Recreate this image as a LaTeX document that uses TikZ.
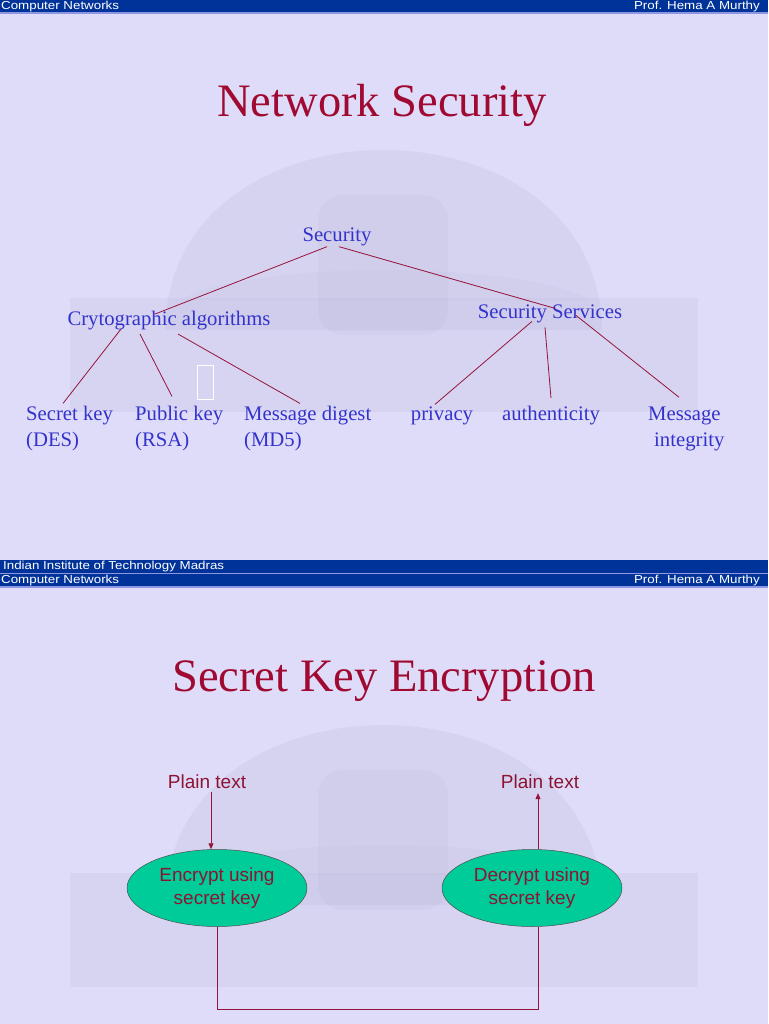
\documentclass[tikz,border=0pt]{standalone}
\usepackage{fontspec}
\setmainfont{Liberation Serif}
\newfontfamily\arialf{Liberation Sans}
\usetikzlibrary{shapes.geometric,arrows.meta}
\definecolor{bg}{RGB}{223,220,249}
\definecolor{hdr}{RGB}{0,51,153}
\definecolor{hdrline}{RGB}{140,150,225}
\definecolor{ttl}{RGB}{160,10,50}
\definecolor{blu}{RGB}{51,51,204}
\definecolor{lin}{RGB}{150,20,60}
\definecolor{grn}{RGB}{0,204,153}
\definecolor{mar}{RGB}{140,20,50}
\definecolor{pho}{RGB}{190,186,220}
\newcommand\myphoto{%
  \fill[pho,opacity=.25] (165,330) .. controls (168,90) and (599,90) .. (602,330) -- cycle;
  \fill[pho,opacity=.22] (70,298) rectangle (698,412);
  \fill[pho!70!black,opacity=.06,rounded corners=25pt] (318,195) rectangle (448,335);
  \fill[pho,opacity=.15] (180,300) .. controls (250,260) and (520,260) .. (590,300) -- cycle;
}
\newcommand\myheader[1]{%
  \fill[hdr] (0,#1) rectangle (768,#1+12.5);
  \fill[hdrline] (0,#1+12.5) rectangle (768,#1+14);
}
\newcommand\ovaltext[2]{\raisebox{-2pt}{\begin{tabular}{@{}c@{}}#1\\#2\end{tabular}}}
\tikzset{
  hdrtxt/.style={text=white,font=\arialf\fontsize{11.6}{12}\selectfont,inner sep=0pt},
  ttltxt/.style={text=ttl,font=\fontsize{46.5}{50}\selectfont,inner sep=0pt},
  tree/.style={text=blu,font=\fontsize{20.7}{26}\selectfont,inner sep=0pt,align=left},
  conn/.style={draw=lin,line width=0.8pt},
  flow/.style={draw=lin,line width=0.8pt},
  ptxt/.style={text=mar,font=\arialf\fontsize{19}{23}\selectfont,inner sep=0pt},
  oval/.style={ellipse,draw=black!70,line width=0.5pt,fill=grn,minimum width=180pt,minimum height=77pt,
     text=mar,font=\arialf\fontsize{19}{23}\selectfont,inner sep=0pt},
}
\begin{document}
\begin{tikzpicture}[x=1pt,y=-1pt]
\useasboundingbox (0,0) rectangle (768,1024);
\fill[bg] (0,0) rectangle (768,1024);
% ---------- slide 1 ----------
\myphoto
\myheader{0}
\node[hdrtxt,anchor=west] (h1l) at (1,6.3) {\scalebox{1.15}[1]{Computer Networks}};
\node[hdrtxt,anchor=east] (h1r) at (760,6.3) {\scalebox{1.15}[1]{Prof. Hema A Murthy}};
\node[ttltxt] (t1) at (382,105) {Network Security};

\node[tree,anchor=base] (sec) at (337,241) {Security};
\node[tree,anchor=base] (cry) at (169,325) {Crytographic algorithms};
\node[tree,anchor=base] (ss) at (550,318) {Security Services};
\node[tree,anchor=base west] (sk) at (26,446) {Secret key\\(DES)};
\node[tree,anchor=base west] (pk) at (135,446) {Public key\\(RSA)};
\node[tree,anchor=base west] (md) at (244,446) {Message digest\\(MD5)};
\node[tree,anchor=base] (pr) at (442,420) {privacy};
\node[tree,anchor=base] (au) at (551,420) {authenticity};
\node[tree,anchor=base west] (mi) at (648,446) {Message\\\hspace*{6pt}integrity};
\draw[white,line width=1pt] (197,365) rectangle (213,399);

\draw[conn] ([shift={(-10,1)}]sec.south) -- ([shift={(-14,-6)}]cry.center);
\draw[conn] ([shift={(2,1)}]sec.south) -- ([shift={(5,-5)}]ss.center);
\draw[conn] ([shift={(-48,9)}]cry.center) -- ([shift={(37,-2)}]sk.north west);
\draw[conn] ([shift={(-29,14)}]cry.center) -- ([shift={(37,-9)}]pk.north west);
\draw[conn] ([shift={(9,14)}]cry.center) -- ([shift={(56,-2)}]md.north west);
\draw[conn] ([shift={(-18,8)}]ss.center) -- ([shift={(-7,-11)}]pr.center);
\draw[conn] ([shift={(-5,14)}]ss.center) -- ([shift={(0,-17)}]au.center);
\draw[conn] ([shift={(26,2)}]ss.center) -- ([shift={(31,-9)}]mi.north west);

\fill[hdr] (0,560) rectangle (768,572.5);
\fill[hdrline] (0,572.5) rectangle (768,573.5);
\node[hdrtxt,anchor=west] (foot) at (3,566.3) {\scalebox{1.15}[1]{Indian Institute of Technology Madras}};

% ---------- slide 2 ----------
\begin{scope}[yshift=-575pt]
\myphoto
\end{scope}
\myheader{573.5}
\node[hdrtxt,anchor=west] (h2l) at (1,580) {\scalebox{1.15}[1]{Computer Networks}};
\node[hdrtxt,anchor=east] (h2r) at (760,580) {\scalebox{1.15}[1]{Prof. Hema A Murthy}};
\node[ttltxt] (t2) at (384,681) {Secret Key Encryption};

\node[ptxt] (p1) at (207,782) {Plain text};
\node[ptxt] (p2) at (540,782) {Plain text};
\node[oval] (enc) at (217,888) {\ovaltext{Encrypt using}{secret key}};
\node[oval] (dec) at (532,888) {\ovaltext{Decrypt using}{secret key}};
\coordinate (b1) at (217,1009);
\coordinate (b2) at (538,1009);
\draw[flow,-{Triangle[length=6pt,width=5pt]}] ([shift={(4pt,-3pt)}]p1.south) -- ([xshift=-6pt]enc.north);
\draw[flow,-{Triangle[length=6pt,width=5pt]}] ([xshift=6pt]dec.north) -- ([shift={(-2pt,-4pt)}]p2.south);
\draw[flow] (enc.south) -- (b1) -- (b2) -- ([xshift=6pt]dec.south);
\end{tikzpicture}
\end{document}
